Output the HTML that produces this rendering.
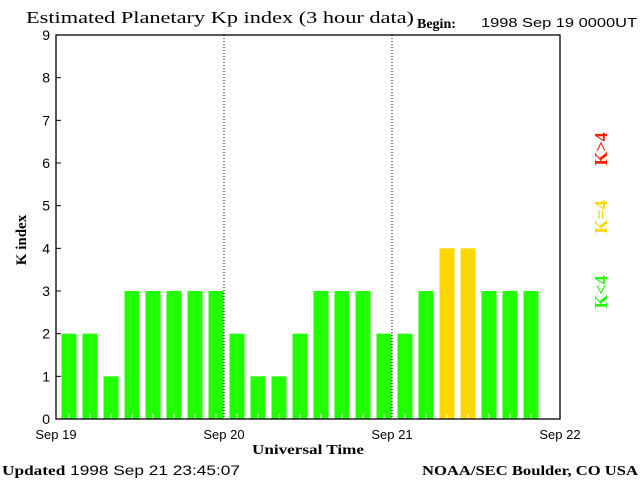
<!DOCTYPE html>
<html><head><meta charset="utf-8"><style>
body{margin:0;background:#fff;}
svg{display:block;font-family:"Liberation Sans",sans-serif;}
.serif{font-family:"Liberation Serif",serif;}
</style></head><body>
<svg id="chart" width="640" height="480">
<text class="serif" x="26" y="23" font-size="17" textLength="388" lengthAdjust="spacingAndGlyphs">Estimated Planetary Kp index (3 hour data)</text>
<text class="serif" x="417" y="28" font-size="14" font-weight="bold">Begin:</text>
<text x="481" y="27" font-size="13" textLength="156" lengthAdjust="spacingAndGlyphs">1998 Sep 19 0000UT</text>
<g id="bars"></g>
<g id="axes"></g>
<text class="serif" x="26" y="240" font-size="15" font-weight="bold" transform="rotate(-90 26 240)" text-anchor="middle">K index</text>
<text class="serif" x="308" y="454" font-size="14" font-weight="bold" text-anchor="middle" textLength="112" lengthAdjust="spacingAndGlyphs">Universal Time</text>
<text x="2" y="475" font-size="14" textLength="238" lengthAdjust="spacingAndGlyphs"><tspan font-weight="bold" font-family="Liberation Serif">Updated</tspan> 1998 Sep 21 23:45:07</text>
<text class="serif" x="422" y="475" font-size="14" font-weight="bold" textLength="216" lengthAdjust="spacingAndGlyphs">NOAA/SEC Boulder, CO USA</text>
<text class="serif" x="607" y="149" font-size="18" font-weight="bold" fill="#ff2000" transform="rotate(-90 607 149)" text-anchor="middle">K&gt;4</text>
<text class="serif" x="607" y="217" font-size="18" font-weight="bold" fill="#ffd700" transform="rotate(-90 607 217)" text-anchor="middle">K=4</text>
<text class="serif" x="607" y="292" font-size="18" font-weight="bold" fill="#22ff00" transform="rotate(-90 607 292)" text-anchor="middle">K&lt;4</text>
</svg>
<script>
const kpValues=[2,2,1,3,3,3,3,3,2,1,1,2,3,3,3,2,2,3,4,4,3,3,3];
const yTicks=[0,1,2,3,4,5,6,7,8,9];
const dayLabels=["Sep 19","Sep 20","Sep 21","Sep 22"];
const NS="http://www.w3.org/2000/svg";
const L=56,R=560,T=35,B=419;
const ys=v=>B-(B-T)*v/9;
const xs=i=>L+(R-L)*i/24;
function mk(t,a,p){const e=document.createElementNS(NS,t);for(const k in a)e.setAttribute(k,a[k]);p.appendChild(e);return e;}
const bars=document.getElementById('bars'),axes=document.getElementById('axes');
kpValues.forEach((v,i)=>{
 const col=v>4?'#ff2000':(v==4?'#ffd700':'#22ff00');
 const r=mk('rect',{x:xs(i)+5.5,y:ys(v),width:15,height:B-ys(v),fill:col},bars);
 
 
});
for(let i=1;i<24;i++){mk('line',{x1:xs(i)-8,x2:xs(i)-8,y1:B,y2:B-5,stroke:'#fff'},bars);}
for(let d=1;d<3;d++){const x=xs(d*8);const l=mk('line',{x1:x,x2:x,y1:T,y2:B,stroke:'#000','stroke-dasharray':'1,2'},axes);
 }
const f=mk('rect',{x:L,y:T,width:R-L,height:B-T,fill:'none',stroke:'#000','stroke-width':1.3},axes);

yTicks.forEach(v=>{
 mk('line',{x1:L,x2:L+5,y1:ys(v),y2:ys(v),stroke:'#000'},axes);
 const t=mk('text',{x:L-6,y:ys(v)+5,'font-size':14,'text-anchor':'end'},axes);t.textContent=v;
 
});
dayLabels.forEach((s,d)=>{
 const t=mk('text',{x:xs(d*8),y:439,'font-size':13,'text-anchor':'middle'},axes);t.textContent=s;
 
});
</script>
</body></html>
